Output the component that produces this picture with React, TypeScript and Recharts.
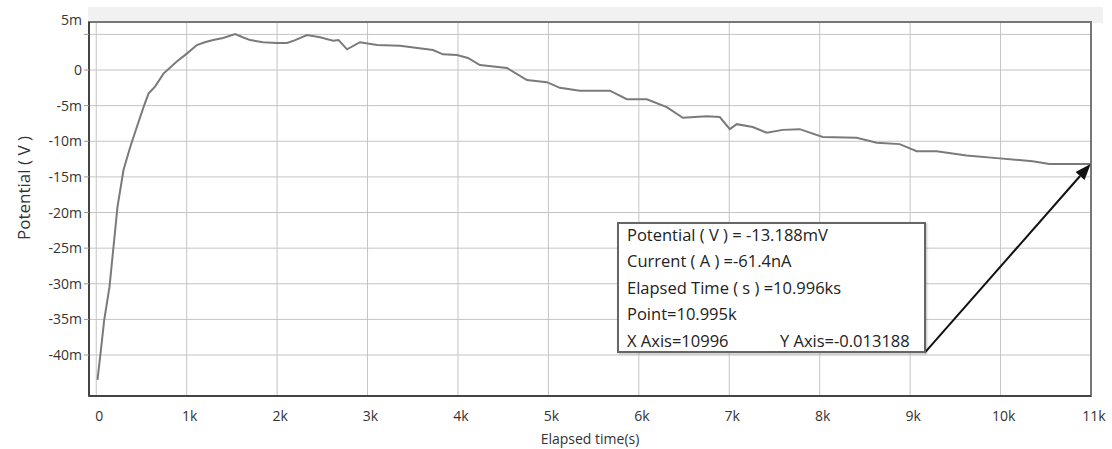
import React from 'react';
import {
  LineChart,
  Line,
  XAxis,
  YAxis,
  CartesianGrid,
  ReferenceArea,
  ReferenceLine,
  Label,
} from 'recharts';

// elapsed time (s) and potential (mV)
const times = [
  14, 50, 88, 147, 191, 235, 302, 376, 449, 523, 578, 652, 744, 891, 1002, 1113, 1200, 1293, 1403,
  1536, 1620, 1702, 1845, 2000, 2110, 2200, 2331, 2475, 2619, 2680, 2773, 2917, 3105, 3359,
  3724, 3834, 3989, 4110, 4243, 4541, 4762, 4983, 5127, 5348, 5680, 5867, 6088, 6309, 6486,
  6751, 6895, 7006, 7083, 7260, 7414, 7591, 7779, 8033, 8409, 8630, 8884, 9072, 9293, 9624,
  9989, 10354, 10541, 10906, 10996,
];
const potentials = [
  -43.5, -39.5, -35.1, -30.4, -24.8, -19.2, -14.0, -10.8, -8.0, -5.2, -3.3, -2.3, -0.5, 1.2, 2.3, 3.5, 3.9, 4.2, 4.5,
  5.06, 4.6, 4.2, 3.9, 3.8, 3.8, 4.2, 4.9, 4.6, 4.1, 4.2, 2.9, 3.9, 3.5, 3.4,
  2.8, 2.2, 2.1, 1.7, 0.7, 0.3, -1.4, -1.7, -2.5, -2.9, -2.9, -4.1, -4.1, -5.2, -6.7,
  -6.5, -6.6, -8.3, -7.6, -8.0, -8.8, -8.4, -8.3, -9.4, -9.5, -10.2, -10.4, -11.4, -11.4, -12.0,
  -12.4, -12.8, -13.2, -13.2, -13.188,
];

const xTicks = [0, 1000, 2000, 3000, 4000, 5000, 6000, 7000, 8000, 9000, 10000, 11000];
const yTicks = [5, 0, -5, -10, -15, -20, -25, -30, -35, -40];

const cursorLines = [
  'Potential ( V ) = -13.188mV',
  'Current ( A ) =-61.4nA',
  'Elapsed Time ( s ) =10.996ks',
  'Point=10.995k',
];
const cursorX = 'X Axis=10996';
const cursorY = 'Y Axis=-0.013188';

// arrow from the readout box corner to the cursor point
const arrowFrom = { t: 9160, v: -39.7 };
const arrowTo = { t: 10996, v: -13.188 };

const data = times.map((t, i) => ({ t, v: potentials[i] }));

const FONT = '"Open Sans", "Noto Sans", sans-serif';

const YTick = (props: any) => {
  const { x, y, payload } = props;
  const v = payload.value;
  return (
    <text x={x} y={y} dy={v === 5 ? -9 : 5} textAnchor="end" fill="#333" fontSize={14} fontFamily={FONT}>
      {v === 0 ? '0' : `${v}m`}
    </text>
  );
};

const YTitle = (props: any) => {
  const vb = props.viewBox || {};
  const cx = 23;
  const cy = (vb.y ?? 22) + (vb.height ?? 374) / 2 - 21;
  return (
    <text
      x={cx}
      y={cy}
      transform={`rotate(-90 ${cx} ${cy})`}
      textAnchor="middle"
      dominantBaseline="central"
      fill="#333"
      fontSize={17}
      fontFamily={FONT}
    >
      Potential ( V )
    </text>
  );
};

const Arrow = (props: any) => {
  const { x1, y1, x2, y2 } = props;
  if ([x1, y1, x2, y2].some((n) => n == null || isNaN(n))) return null;
  const ang = Math.atan2(y2 - y1, x2 - x1);
  const len = 16;
  const w = 6;
  const bx = x2 - len * Math.cos(ang);
  const by = y2 - len * Math.sin(ang);
  const px = -Math.sin(ang) * w;
  const py = Math.cos(ang) * w;
  return (
    <g>
      <line x1={x1} y1={y1} x2={bx} y2={by} stroke="#111" strokeWidth={2} />
      <polygon points={`${x2},${y2} ${bx + px},${by + py} ${bx - px},${by - py}`} fill="#111" />
    </g>
  );
};

export default function App() {
  return (
    <div style={{ position: 'absolute', left: 0, top: 0, width: 1112, height: 449, background: '#fff' }}>
      <div style={{ position: 'absolute', left: 88, top: 7, width: 1015, height: 16, background: '#f1f1f1' }} />
      <LineChart
        width={1112}
        height={449}
        data={data}
        margin={{ top: 22, right: 21, bottom: 23, left: 0 }}
        style={{ position: 'absolute', left: 0, top: 0 }}
      >
        <CartesianGrid stroke="#c4c4c4" strokeWidth={1} />
        <XAxis
          dataKey="t"
          type="number"
          domain={[-80, 11000]}
          ticks={xTicks}
          allowDataOverflow
          height={30}
          tickFormatter={(v: number) => (v === 0 ? '0' : `${v / 1000}k`)}
          tick={{ fill: '#333', fontSize: 14, fontFamily: FONT, dx: 3 }}
          tickLine={false}
          tickMargin={9}
          axisLine={{ stroke: '#444', strokeWidth: 2 }}
        >
          <Label value="Elapsed time(s)" position="insideBottom" offset={-18} fill="#333" fontSize={14} fontFamily={FONT} />
        </XAxis>
        <YAxis
          type="number"
          domain={[-45.75, 6.74]}
          ticks={yTicks}
          allowDataOverflow
          width={89}
          tick={<YTick />}
          tickLine={{ stroke: '#999' }}
          tickSize={5}
          tickMargin={2}
          axisLine={{ stroke: '#444', strokeWidth: 2 }}
        >
          <Label content={<YTitle />} />
        </YAxis>
        <ReferenceArea
          x1={-80}
          x2={11000}
          y1={-45.75}
          y2={6.74}
          fill="none"
          stroke="#777"
          strokeWidth={2}
          ifOverflow="visible"
        />
        <Line
          type="linear"
          dataKey="v"
          stroke="#7a7a7a"
          strokeWidth={2}
          dot={false}
          isAnimationActive={false}
        />
        <ReferenceLine
          segment={[
            { x: arrowFrom.t, y: arrowFrom.v },
            { x: arrowTo.t, y: arrowTo.v },
          ]}
          ifOverflow="visible"
          shape={<Arrow />}
        />
      </LineChart>
      <div
        style={{
          position: 'absolute',
          left: 617,
          top: 222,
          width: 297,
          height: 127,
          border: '2px solid #666',
          background: '#fff',
          boxShadow: '1px 1px 2px rgba(0,0,0,0.25)',
          fontFamily: FONT,
          fontSize: 16.5,
          color: '#222',
          padding: '0 0 0 8px',
          boxSizing: 'content-box',
          whiteSpace: 'nowrap',
          overflow: 'hidden',
        }}
      >
        <div style={{ marginTop: -2 }}>
          {cursorLines.map((s) => (
            <div key={s} style={{ height: 26.4, lineHeight: '26px' }}>
              {s}
            </div>
          ))}
          <div style={{ height: 26, lineHeight: '26px', position: 'relative' }}>
            <span>{cursorX}</span>
            <span style={{ position: 'absolute', left: 153 }}>{cursorY}</span>
          </div>
        </div>
      </div>
    </div>
  );
}
